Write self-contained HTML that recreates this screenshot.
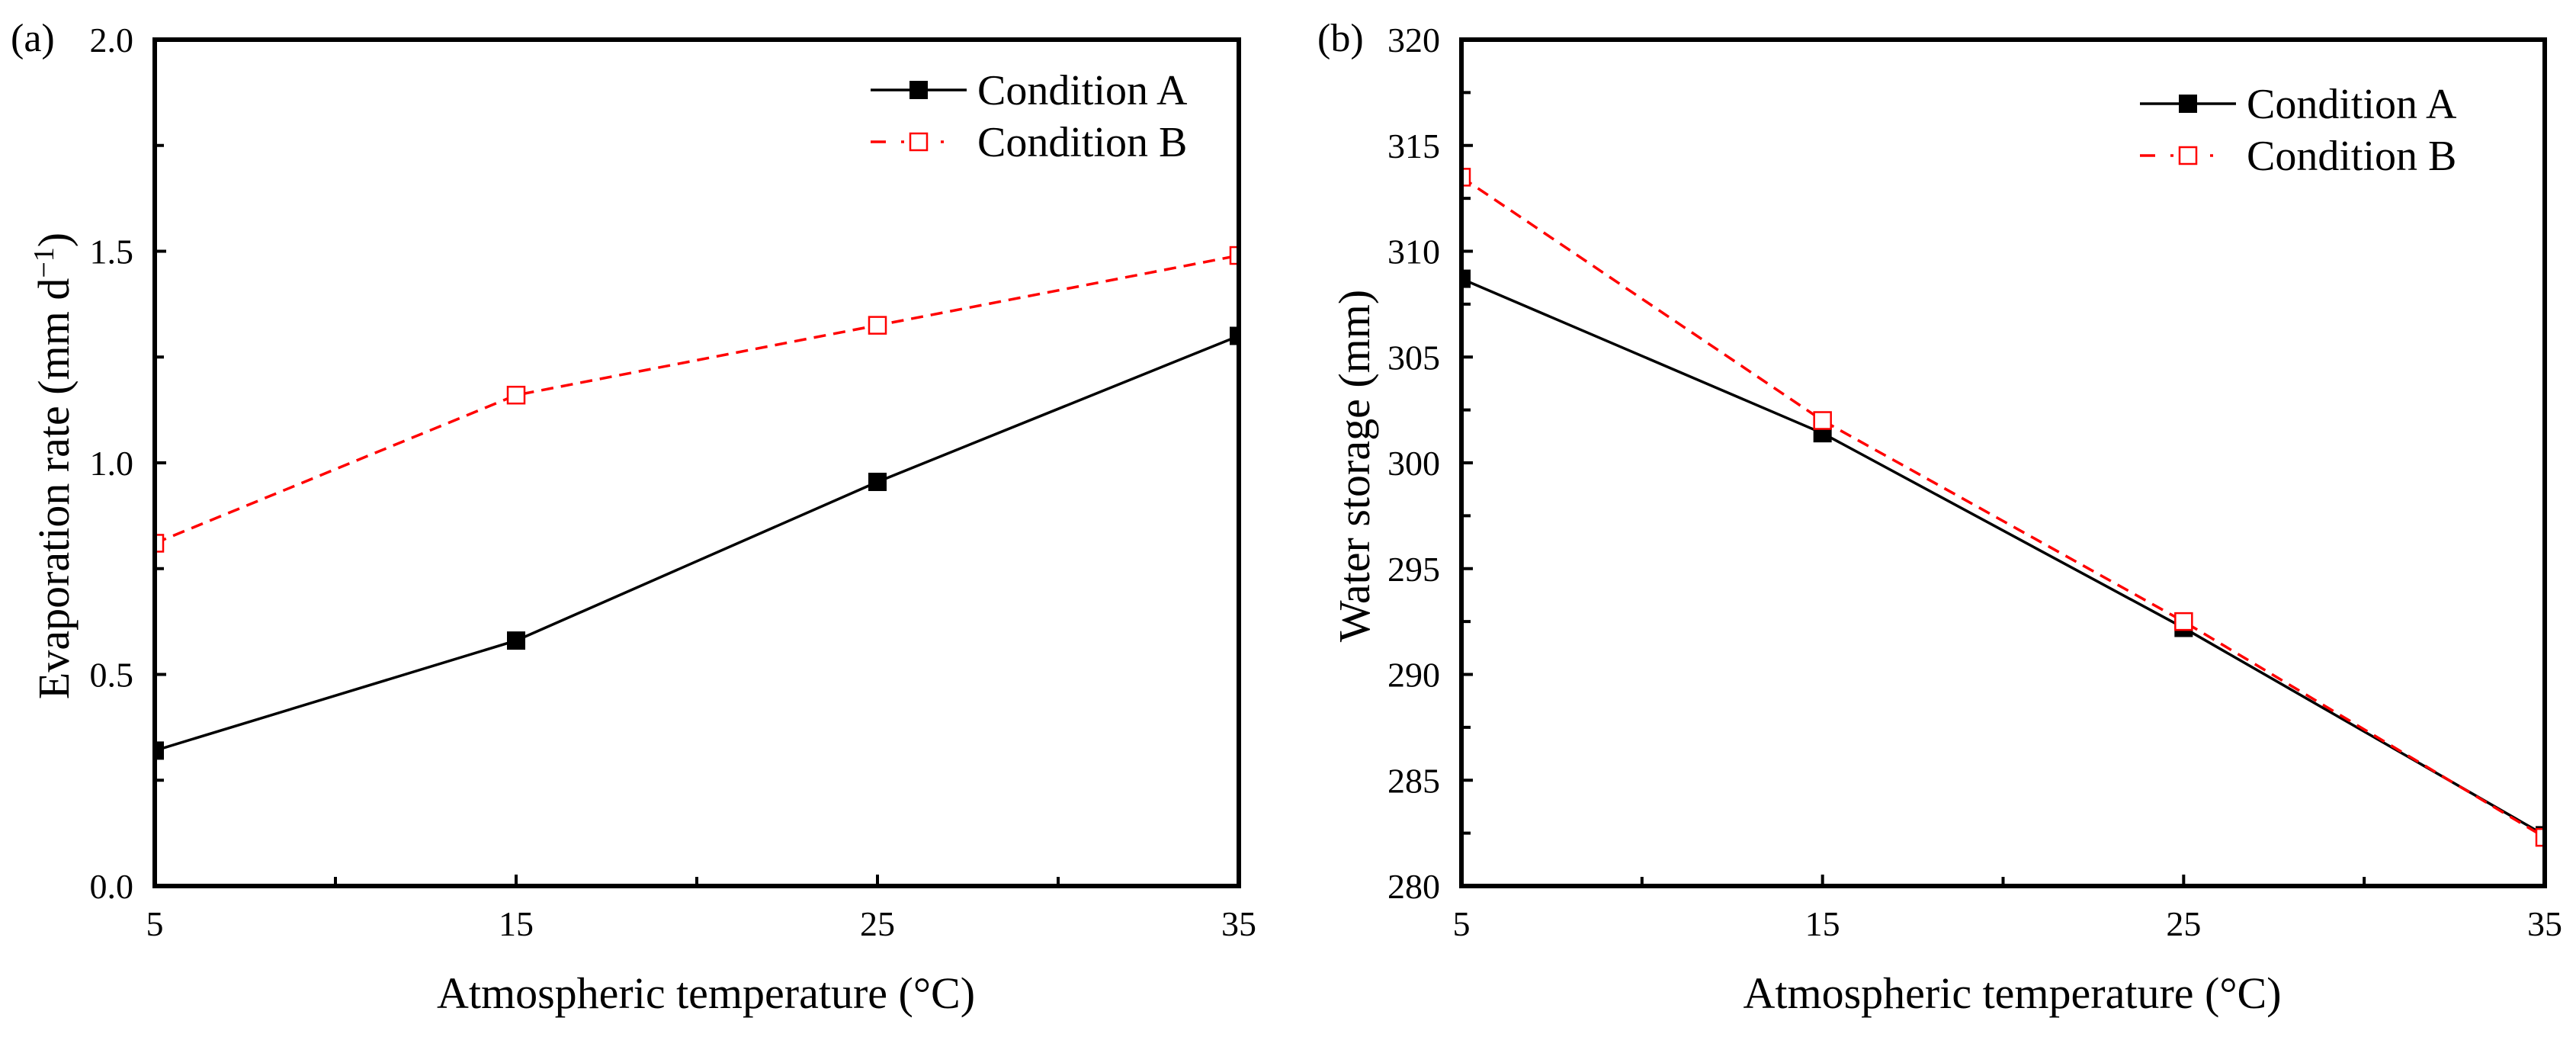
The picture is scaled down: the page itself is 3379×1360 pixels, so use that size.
<!DOCTYPE html>
<html><head><meta charset="utf-8"><style>
html,body{margin:0;padding:0;background:#fff;}
svg, svg text{font-family:"Liberation Serif","Times New Roman","DejaVu Serif",serif;}
</style></head><body>
<svg id="fig" width="3379" height="1355" viewBox="0 0 3379 1355" font-family="Liberation Serif, Times New Roman, DejaVu Serif, serif"></svg>
<script>
const xTicks=[5,15,25,35];
const xMinor=[10,20,30];
const aYTicks=[0.0,0.5,1.0,1.5,2.0];
const aYLabels=["0.0","0.5","1.0","1.5","2.0"];
const aCondA=[0.32,0.58,0.955,1.30];
const aCondB=[0.81,1.16,1.325,1.49];
const bYTicks=[280,285,290,295,300,305,310,315,320];
const bYLabels=["280","285","290","295","300","305","310","315","320"];
const bCondA=[308.7,301.4,292.2,282.4];
const bCondB=[313.5,302.0,292.5,282.3];
const xCats=[5,15,25,35];

const NS="http://www.w3.org/2000/svg";
const FONT='"Liberation Serif","Times New Roman","DejaVu Serif",serif';
const svg=document.getElementById('fig');
function mk(tag,attrs,parent){const e=document.createElementNS(NS,tag);for(const k in attrs)e.setAttribute(k,attrs[k]);if(tag==='text')e.style.fontFamily=FONT;(parent||svg).appendChild(e);return e;}

function panel(cfg){
  const g=mk('g',{});
  
  
  const L=cfg.L,R=cfg.R,T=52,B=1162;
  const sx=v=>L+(v-5)/(35-5)*(R-L);
  const sy=v=>B-(v-cfg.ymin)/(cfg.ymax-cfg.ymin)*(B-T);
  const cp=mk('clipPath',{id:cfg.name+'-clip'},g);
  mk('rect',{x:L,y:T,width:R-L,height:B-T},cp);
  xTicks.forEach(v=>{const t=mk('line',{x1:sx(v),x2:sx(v),y1:B,y2:B-15,stroke:'#000','stroke-width':4},g);
    
    
    const tx=mk('text',{x:sx(v),y:1227,'text-anchor':'middle','font-size':46},g);tx.textContent=v;
    
    });
  xMinor.forEach(v=>{const t=mk('line',{x1:sx(v),x2:sx(v),y1:B,y2:B-12,stroke:'#000','stroke-width':4},g);
    
    });
  cfg.yt.forEach((v,i)=>{const t=mk('line',{x1:L,x2:L+15,y1:sy(v),y2:sy(v),stroke:'#000','stroke-width':4},g);
    
    
    const tx=mk('text',{x:L-28,y:sy(v)+16,'text-anchor':'end','font-size':46},g);tx.textContent=cfg.yl[i];
    
    
    if(i<cfg.yt.length-1){const mv=(v+cfg.yt[i+1])/2;const m=mk('line',{x1:L,x2:L+12,y1:sy(mv),y2:sy(mv),stroke:'#000','stroke-width':4},g);
      
      }
  });
  const dg=mk('g',{'clip-path':'url(#'+cfg.name+'-clip)'},g);
  const ptsA=xCats.map((x,i)=>sx(x)+','+sy(cfg.A[i])).join(' ');
  const ptsB=xCats.map((x,i)=>sx(x)+','+sy(cfg.B[i])).join(' ');
  const la=mk('polyline',{points:ptsA,fill:'none',stroke:'#000','stroke-width':3.5},dg);
  
  
  const lb=mk('polyline',{points:ptsB,fill:'none',stroke:'#ff0000','stroke-width':3.5,'stroke-dasharray':'16 10'},dg);
  
  
  xCats.forEach((x,i)=>{const r=mk('rect',{x:sx(x)-12,y:sy(cfg.A[i])-12,width:24,height:24,fill:'#000'},dg);
    
    });
  xCats.forEach((x,i)=>{const r=mk('rect',{x:sx(x)-11,y:sy(cfg.B[i])-11,width:22,height:22,fill:'#fff',stroke:'#ff0000','stroke-width':2.5},dg);
    
    });
  const f=mk('rect',{x:L,y:T,width:R-L,height:B-T,fill:'none',stroke:'#000','stroke-width':6},g);
  
  
  const lg=mk('g',{},g);
  
  
  const lx=cfg.lx,ly=cfg.ly;
  mk('line',{x1:lx,x2:lx+126,y1:ly,y2:ly,stroke:'#000','stroke-width':3.5},lg);
  mk('rect',{x:lx+51,y:ly-12,width:24,height:24,fill:'#000'},lg);
  const ta=mk('text',{x:lx+140,y:ly+19,'font-size':56},lg);ta.textContent='Condition A';
  
  
  mk('line',{x1:lx,x2:lx+126,y1:ly+68,y2:ly+68,stroke:'#ff0000','stroke-width':3.5,'stroke-dasharray':'20 20 4 8 20 20 4 100'},lg);
  mk('rect',{x:lx+52,y:ly+57,width:22,height:22,fill:'#fff',stroke:'#ff0000','stroke-width':2.5},lg);
  const tb=mk('text',{x:lx+140,y:ly+87,'font-size':56},lg);tb.textContent='Condition B';
  
  
  const xt=mk('text',{x:(L+R)/2+12,y:1322,'text-anchor':'middle','font-size':58},g);xt.textContent='Atmospheric temperature (°C)';
  
  
  const yt=mk('text',{x:0,y:0,'text-anchor':'middle','font-size':58,transform:'translate('+(cfg.ytx)+','+((T+B)/2+4)+') rotate(-90)'},g);
  yt.innerHTML=cfg.ytitle;
  
  
  const pl=mk('text',{x:cfg.plx,y:67,'font-size':52},g);pl.textContent=cfg.label;
  
  
}
panel({name:'panel-a',L:203,R:1625,ymin:0,ymax:2,yt:aYTicks,yl:aYLabels,A:aCondA,B:aCondB,lx:1142,ly:118,ytx:90,
  ytitle:'Evaporation rate (mm d<tspan dy="-20" font-size="38">−1</tspan><tspan dy="20">)</tspan>',plx:14,label:'(a)'});
panel({name:'panel-b',L:1917,R:3338,ymin:280,ymax:320,yt:bYTicks,yl:bYLabels,A:bCondA,B:bCondB,lx:2807,ly:136,ytx:1796,
  ytitle:'Water storage (mm)',plx:1728,label:'(b)'});
</script>
</body></html>
